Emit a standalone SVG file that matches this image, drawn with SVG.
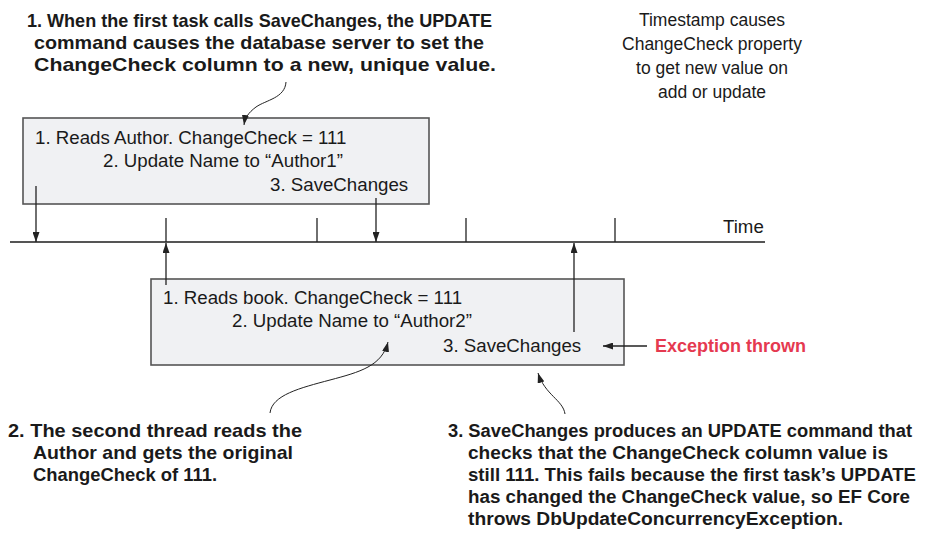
<svg xmlns="http://www.w3.org/2000/svg" width="926" height="543" viewBox="0 0 926 543">
<style>
.t{font-family:"Liberation Sans",Arial,sans-serif;font-size:18.7px;fill:#1a1a1a}
.r{font-family:"Liberation Sans",Arial,sans-serif;font-size:17.5px;fill:#1a1a1a}
.b{font-family:"Liberation Sans",Arial,sans-serif;font-size:19px;font-weight:bold;fill:#1a1a1a}
.b2{font-family:"Liberation Sans",Arial,sans-serif;font-size:18px;font-weight:bold;fill:#1a1a1a}
.box{fill:#f0f1f3;stroke:#555;stroke-width:1.6}
.ln{stroke:#222;stroke-width:1.3;fill:none}
.cv{stroke:#222;stroke-width:1;fill:none}
</style>
<defs>
<marker id="ah" viewBox="0 0 10 7" refX="10" refY="3.5" markerWidth="10" markerHeight="7" markerUnits="userSpaceOnUse" orient="auto">
<path d="M0,0 L10,3.5 L0,7 z" fill="#222"/>
</marker>
</defs>
<rect width="926" height="543" fill="#fff"/>

<g id="note1">
<text class="b" x="27" y="27" textLength="465" lengthAdjust="spacingAndGlyphs">1. When the first task calls SaveChanges, the UPDATE</text>
<text class="b" x="34" y="49" textLength="450" lengthAdjust="spacingAndGlyphs">command causes the database server to set the</text>
<text class="b" x="34" y="71" textLength="462" lengthAdjust="spacingAndGlyphs">ChangeCheck column to a new, unique value.</text>
</g>

<g id="note-timestamp">
<text class="r" text-anchor="middle" x="712" y="26">Timestamp causes</text>
<text class="r" text-anchor="middle" x="712" y="50">ChangeCheck property</text>
<text class="r" text-anchor="middle" x="712" y="74">to get new value on</text>
<text class="r" text-anchor="middle" x="712" y="98">add or update</text>
</g>

<g id="task1">
<rect class="box" x="23" y="118" width="406" height="86"/>
<text class="t" x="35" y="144">1. Reads Author. ChangeCheck = 111</text>
<text class="t" x="103" y="167">2. Update Name to “Author1”</text>
<text class="t" x="270" y="191">3. SaveChanges</text>
</g>

<g id="timeline">
<line x1="10" y1="242" x2="765" y2="242" stroke="#555" stroke-width="2"/>
<text class="t" x="723" y="233">Time</text>
</g>

<g id="task2">
<rect class="box" x="151" y="279" width="473" height="86"/>
<text class="t" x="163" y="304">1. Reads book. ChangeCheck = 111</text>
<text class="t" x="232" y="327">2. Update Name to “Author2”</text>
<text class="t" x="443" y="352">3. SaveChanges</text>
</g>

<g id="exception">
<text class="b2" x="655" y="352" style="fill:#e53950">Exception thrown</text>
</g>

<g id="note2">
<text class="b" x="8" y="437" textLength="294" lengthAdjust="spacingAndGlyphs">2. The second thread reads the</text>
<text class="b" x="33" y="459" textLength="260" lengthAdjust="spacingAndGlyphs">Author and gets the original</text>
<text class="b" x="33" y="481" textLength="184" lengthAdjust="spacingAndGlyphs">ChangeCheck of 111.</text>
</g>

<g id="note3">
<text class="b2" x="448" y="437" textLength="464" lengthAdjust="spacingAndGlyphs">3. SaveChanges produces an UPDATE command that</text>
<text class="b2" x="468" y="459" textLength="420" lengthAdjust="spacingAndGlyphs">checks that the ChangeCheck column value is</text>
<text class="b2" x="468" y="481" textLength="448" lengthAdjust="spacingAndGlyphs">still 111. This fails because the first task’s UPDATE</text>
<text class="b2" x="468" y="503" textLength="442" lengthAdjust="spacingAndGlyphs">has changed the ChangeCheck value, so EF Core</text>
<text class="b2" x="468" y="525" textLength="375" lengthAdjust="spacingAndGlyphs">throws DbUpdateConcurrencyException.</text>
</g>

<g id="connectors">
<line class="ln" x1="166" y1="218" x2="166" y2="242"/>
<line class="ln" x1="317" y1="218" x2="317" y2="242"/>
<line class="ln" x1="466" y1="218" x2="466" y2="242"/>
<line class="ln" x1="615" y1="218" x2="615" y2="242"/>
<line class="ln" x1="36" y1="186" x2="36" y2="242" marker-end="url(#ah)"/>
<line class="ln" x1="376" y1="198" x2="376" y2="242" marker-end="url(#ah)"/>
<line class="ln" x1="166" y1="285" x2="166" y2="243" marker-end="url(#ah)"/>
<line class="ln" x1="574" y1="332" x2="574" y2="243" marker-end="url(#ah)"/>
<line class="ln" x1="647" y1="346" x2="603" y2="346" marker-end="url(#ah)"/>
<path class="cv" d="M286,82 C285,98 266,100 256,107 C248,113 245,118 244,125" marker-end="url(#ah)"/>
<path class="cv" d="M270,413 C272,395 300,388 330,380 C360,372 382,366 388,342" marker-end="url(#ah)"/>
<path class="cv" d="M565,414 C563,400 545,395 538,373" marker-end="url(#ah)"/>
</g>
</svg>
